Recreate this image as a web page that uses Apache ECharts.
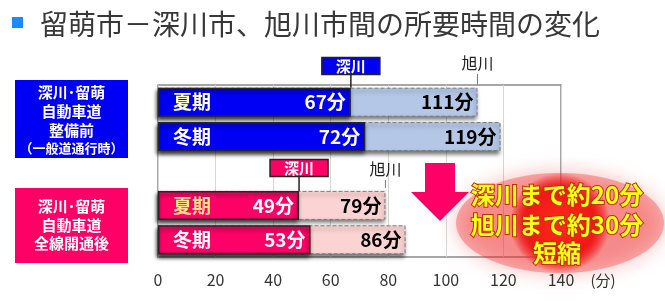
<!DOCTYPE html>
<html><head><meta charset="utf-8">
<script src="https://cdn.jsdelivr.net/npm/echarts@6/dist/echarts.min.js"></script>
<style>html,body{margin:0;padding:0;background:#fff}#c{width:665px;height:301px}</style>
</head><body><div id="c"></div>
<script>
// ---- data ----
const categories = ['夏期', '冬期', '', '夏期', '冬期'];
const groups = ['before', 'before', null, 'after', 'after'];
const fukagawaMin = [67, 72, null, 49, 53];
const asahikawaMin = [111, 119, null, 79, 86];
const xMin = 0, xMax = 140, xStep = 20;
const unitLabel = '(分)';
const titleText = '留萌市－深川市、旭川市間の所要時間の変化';
const beforeLines = ['深川･留萌', '自動車道', '整備前', '（一般道通行時）'];
const afterLines = ['深川･留萌', '自動車道', '全線開通後'];
const calloutLines = ['深川まで約20分', '旭川まで約30分', '短縮'];
const markerFuka = '深川', markerAsa = '旭川';

// ---- styles ----
const FONT = '"Noto Sans CJK JP", "Noto Sans", sans-serif';
const C = {
  before: { main: '#0000f5', light: '#b4c7e7', summer: '#ffffcc' },
  after: { main: '#ff0066', light: '#fcd3d3', summer: '#ffe38a' }
};

const chart = echarts.init(document.getElementById('c'), null, { renderer: 'canvas' });
const barW = 29;
const shadow = { shadowColor: 'rgba(0,0,0,0.55)', shadowBlur: 4, shadowOffsetX: -1, shadowOffsetY: 3 };

const asaData = asahikawaMin.map((v, i) => v == null ? '-' : {
  value: v,
  itemStyle: Object.assign({ color: C[groups[i]].light, borderColor: '#7a7a7a', borderWidth: 1, borderType: 'dashed' }, shadow)
});
const fukaData = fukagawaMin.map((v, i) => v == null ? '-' : {
  value: v,
  itemStyle: Object.assign({ color: C[groups[i]].main, borderColor: '#262626', borderWidth: 1.5 }, shadow)
});
const seasonData = fukagawaMin.map((v, i) => v == null ? '-' : {
  value: v,
  label: { color: categories[i] === '夏期' ? C[groups[i]].summer : '#ffffff' }
});

chart.setOption({
  animation: false,
  grid: { left: 158, right: 104, top: 85, bottom: 44, show: true, borderColor: '#8a8a8a', borderWidth: 1.5 },
  xAxis: {
    type: 'value', min: xMin, max: xMax, interval: xStep,
    axisLine: { show: false }, axisTick: { show: false },
    splitLine: { lineStyle: { color: '#d6d6d6', width: 1 } },
    axisLabel: { fontSize: 16, color: '#333', margin: 15, fontFamily: FONT }
  },
  yAxis: { type: 'category', inverse: true, data: categories, show: false },
  series: [
    {
      type: 'bar', name: '旭川', data: asaData, barWidth: barW, barGap: '-100%', z: 2,
      label: {
        show: true, position: 'insideRight', distance: 4,
        formatter: p => p.value + '分', color: '#000', fontWeight: 'bold', fontSize: 19, fontFamily: FONT
      }
    },
    {
      type: 'bar', name: '深川', data: fukaData, barWidth: barW, barGap: '-100%', z: 3,
      label: {
        show: true, position: 'insideRight', distance: 5,
        formatter: p => p.value + '分', color: '#fff', fontWeight: 'bold', fontSize: 19, fontFamily: FONT
      }
    },
    {
      type: 'bar', name: 'season', data: seasonData, barWidth: barW, barGap: '-100%', z: 4, silent: true,
      itemStyle: { color: 'rgba(0,0,0,0)' },
      label: {
        show: true, position: 'insideLeft', distance: 15,
        formatter: p => p.name, fontWeight: 'bold', fontSize: 19, fontFamily: FONT
      }
    }
  ]
});

// ---- annotations placed via scales ----
const px = v => chart.convertToPixel({ xAxisIndex: 0 }, v);
const py = i => chart.convertToPixel({ yAxisIndex: 0 }, i);
const g = [];

// title
g.push({ type: 'rect', shape: { x: 12, y: 17, width: 11, height: 11 }, style: { fill: '#1a8cff' } });
g.push({ type: 'text', style: { text: titleText, x: 40, y: 24, verticalAlign: 'middle', fill: '#383838', font: '28px ' + FONT } });

// left group boxes
function groupBox(x, y, w, h, color, lines, centers, sizes) {
  g.push({ type: 'rect', shape: { x, y, width: w, height: h }, style: { fill: color } });
  lines.forEach((t, k) => g.push({
    type: 'text', style: { text: t, x: x + w / 2, y: centers[k], align: 'center', verticalAlign: 'middle', fill: '#fff', font: 'bold ' + sizes[k] + 'px ' + FONT }
  }));
}
groupBox(15, 80, 113, 78, C.before.main, beforeLines, [92, 111, 130, 148.5], [15, 15, 15, 13]);
groupBox(15, 188, 113, 75, C.after.main, afterLines, [206.5, 225, 243.5], [15, 15, 15]);

// markers above each group
function markers(idx, boxFill, boxCy, asaCy) {
  const barTop = py(idx) - barW / 2;
  const xf = px(fukagawaMin[idx]);
  const xa = px(asahikawaMin[idx]);
  g.push({ type: 'line', shape: { x1: xf, y1: boxCy + 8, x2: xf, y2: barTop }, style: { stroke: '#222', lineWidth: 1.5 } });
  g.push({ type: 'rect', shape: { x: xf - 29, y: boxCy - 8.5, width: 58, height: 17 }, style: { fill: boxFill, stroke: '#222', lineWidth: 1.5 } });
  g.push({ type: 'text', style: { text: markerFuka, x: xf, y: boxCy, align: 'center', verticalAlign: 'middle', fill: '#fff', font: 'bold 15px ' + FONT } });
  g.push({ type: 'text', style: { text: markerAsa, x: xa, y: asaCy, align: 'center', verticalAlign: 'middle', fill: '#222', font: '16px ' + FONT } });
  g.push({ type: 'line', shape: { x1: xa, y1: asaCy + 11, x2: xa, y2: barTop - 3 }, style: { stroke: '#777', lineWidth: 1 } });
}
markers(0, C.before.main, 66, 63);
markers(3, C.after.main, 168, 169);

// down arrow
g.push({ type: 'polygon', shape: { points: [[425, 163], [455, 163], [455, 192], [469, 192], [440, 221], [411, 192], [425, 192]] }, style: { fill: '#ff0066' } });

// callout ellipse (soft glow)
g.push({
  type: 'ellipse', shape: { cx: 560, cy: 223, rx: 104, ry: 50 },
  style: {
    fill: new echarts.graphic.RadialGradient(0.5, 0.5, 0.5, [
      { offset: 0, color: '#ff2a1a' }, { offset: 0.7, color: '#f01818' }, { offset: 1, color: 'rgba(240,40,40,0.35)' }
    ]),
    shadowBlur: 20, shadowColor: 'rgba(235,30,30,0.85)'
  }
});
calloutLines.forEach((t, k) => g.push({
  type: 'text', style: {
    text: t, x: 557, y: [195, 225, 253][k], align: 'center', verticalAlign: 'middle',
    fill: '#ffff1a', stroke: '#c23000', lineWidth: 2, font: 'bold 24px ' + FONT
  }
}));

// axis unit
g.push({ type: 'text', style: { text: unitLabel, x: px(xMax) + 42, y: 280, align: 'center', verticalAlign: 'middle', fill: '#333', font: '15px ' + FONT } });

chart.setOption({ graphic: g });
</script>
</body></html>
